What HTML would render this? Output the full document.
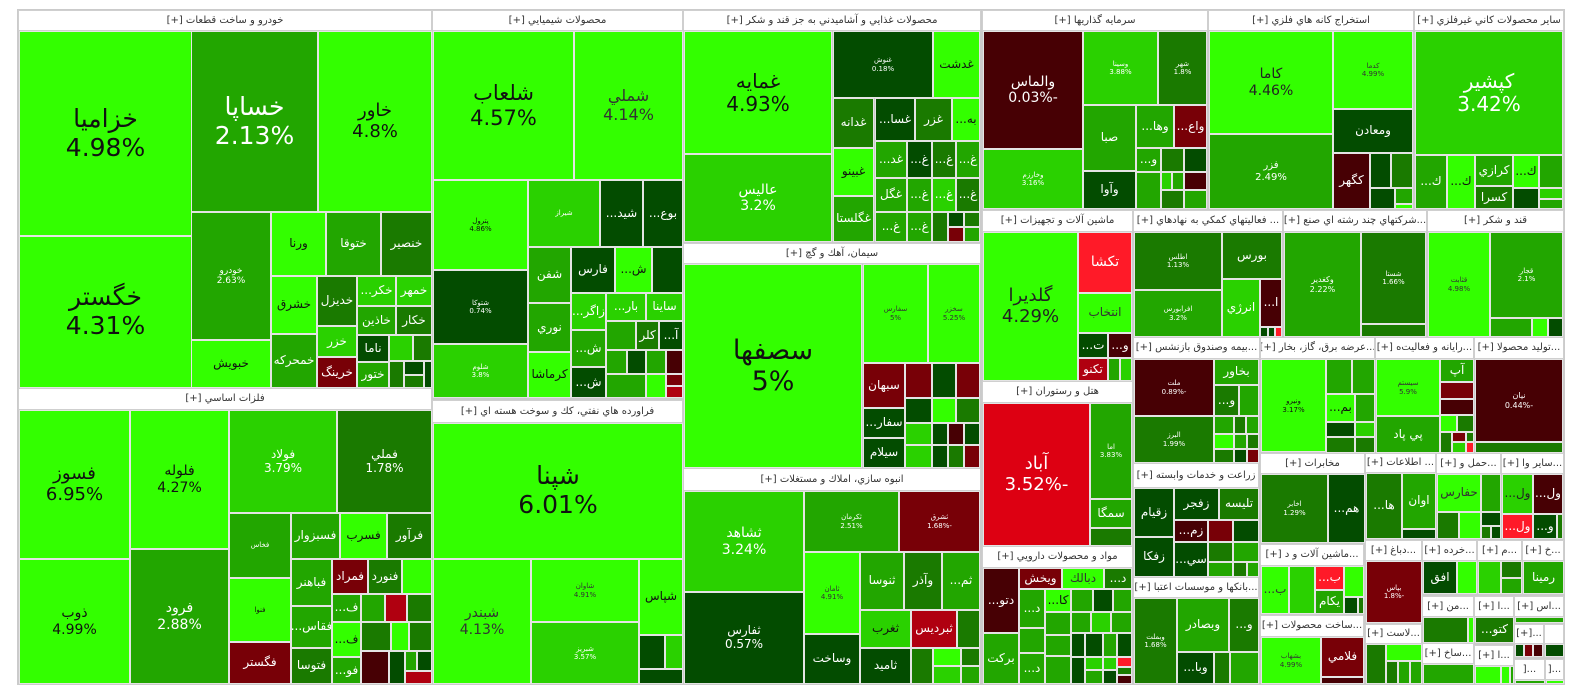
<!DOCTYPE html>
<html><head><meta charset="utf-8">
<style>
body{margin:0;width:1584px;height:698px;background:#fff;position:relative;overflow:hidden;font-family:"DejaVu Sans","Liberation Sans",sans-serif;}
#m{position:absolute;left:17px;top:9px;width:1548px;height:676px;background:#cbcbcb}
.r,.h{position:absolute;box-sizing:border-box;display:flex;flex-direction:column;align-items:center;justify-content:center;overflow:hidden;text-align:center;line-height:1.15;white-space:nowrap;direction:rtl}
.r{border:1px solid #e4e4e4;color:#fff;font-size:12px}
.h{background:#fff;color:#333;font-size:10px;border:1px solid #cfcfcf}
.a{background:#33ff00;color:#111}.b{background:#2ad100}.c{background:#22a600}.d{background:#1a7a00}.e{background:#034c00}
.f{background:#470004}.g{background:#780007}.h2{background:#b00010}.i{background:#ff1a28}.j{background:#dd0012}
.B{font-size:25px}.M{font-size:18px}.S{font-size:14px}.T{font-size:7px}
</style></head><body>
<div id="m"></div>
<!-- Car -->
<div class="h" style="left:18px;top:10px;width:414px;height:21px">خودرو و ساخت قطعات [+]</div>
<div class="r a B" style="left:19px;top:31px;width:173px;height:205px">خزاميا<br>4.98%</div>
<div class="r a B" style="left:19px;top:236px;width:173px;height:152px">خگستر<br>4.31%</div>
<div class="r c B" style="left:191px;top:31px;width:127px;height:181px">خساپا<br>2.13%</div>
<div class="r a M" style="left:318px;top:31px;width:114px;height:181px">خاور<br>4.8%</div>
<div class="r c" style="left:191px;top:212px;width:80px;height:128px;font-size:9px">خودرو<br>2.63%</div>
<div class="r a" style="left:191px;top:340px;width:80px;height:48px">خبويش</div>
<div class="r a" style="left:271px;top:212px;width:55px;height:64px">ورنا</div>
<div class="r c" style="left:326px;top:212px;width:55px;height:64px">ختوقا</div>
<div class="r d" style="left:381px;top:212px;width:51px;height:64px">خنصير</div>
<div class="r a" style="left:271px;top:276px;width:46px;height:58px">خشرق</div>
<div class="r c" style="left:271px;top:334px;width:46px;height:54px">خمحركه</div>
<div class="r d" style="left:317px;top:276px;width:40px;height:50px">خديزل</div>
<div class="r b" style="left:317px;top:326px;width:40px;height:31px">خزر</div>
<div class="r g" style="left:317px;top:357px;width:40px;height:31px">خرينگ</div>
<div class="r b" style="left:357px;top:276px;width:39px;height:30px">خكر...</div>
<div class="r b" style="left:396px;top:276px;width:36px;height:30px">خمهر</div>
<div class="r c" style="left:357px;top:306px;width:39px;height:29px">خاذين</div>
<div class="r d" style="left:396px;top:306px;width:36px;height:29px">خكار</div>
<div class="r e" style="left:357px;top:335px;width:32px;height:27px">ناما</div>
<div class="r c" style="left:357px;top:362px;width:32px;height:26px">ختور</div>
<div class="r b" style="left:389px;top:335px;width:24px;height:26px"></div>
<div class="r d" style="left:413px;top:335px;width:19px;height:26px"></div>
<div class="r d" style="left:389px;top:361px;width:15px;height:27px"></div>
<div class="r e" style="left:404px;top:361px;width:20px;height:14px"></div>
<div class="r d" style="left:404px;top:375px;width:20px;height:13px"></div>
<div class="r e" style="left:424px;top:361px;width:8px;height:27px"></div>
<!-- Metals -->
<div class="h" style="left:18px;top:388px;width:414px;height:22px">فلزات اساسي [+]</div>
<div class="r a M" style="left:19px;top:410px;width:111px;height:149px">فسوز<br>6.95%</div>
<div class="r a S" style="left:19px;top:559px;width:111px;height:125px">ذوب<br>4.99%</div>
<div class="r a S" style="left:130px;top:410px;width:99px;height:139px">فلوله<br>4.27%</div>
<div class="r c S" style="left:130px;top:549px;width:99px;height:135px">فرود<br>2.88%</div>
<div class="r b" style="left:229px;top:410px;width:108px;height:103px">فولاد<br>3.79%</div>
<div class="r d" style="left:337px;top:410px;width:95px;height:103px">فملي<br>1.78%</div>
<div class="r c T" style="left:229px;top:513px;width:62px;height:65px">فخاس</div>
<div class="r a T" style="left:229px;top:578px;width:62px;height:64px">فنوا</div>
<div class="r g" style="left:229px;top:642px;width:62px;height:42px">فگستر</div>
<div class="r c" style="left:291px;top:513px;width:49px;height:46px">فسبزوار</div>
<div class="r a" style="left:340px;top:513px;width:47px;height:46px">فسرب</div>
<div class="r d" style="left:387px;top:513px;width:45px;height:46px">فرآور</div>
<div class="r c" style="left:291px;top:559px;width:41px;height:47px">فباهنر</div>
<div class="r c" style="left:291px;top:606px;width:41px;height:42px">فقاس...</div>
<div class="r d" style="left:291px;top:648px;width:41px;height:36px">فتوسا</div>
<div class="r g" style="left:332px;top:559px;width:36px;height:35px">فمراد</div>
<div class="r d" style="left:368px;top:559px;width:34px;height:35px">فنورد</div>
<div class="r a" style="left:402px;top:559px;width:30px;height:35px"></div>
<div class="r c" style="left:332px;top:594px;width:29px;height:28px">ف...</div>
<div class="r a" style="left:332px;top:622px;width:29px;height:35px">ف...</div>
<div class="r c" style="left:332px;top:657px;width:29px;height:27px">فو...</div>
<div class="r c" style="left:361px;top:594px;width:24px;height:28px"></div>
<div class="r h2" style="left:385px;top:594px;width:22px;height:28px"></div>
<div class="r d" style="left:407px;top:594px;width:25px;height:28px"></div>
<div class="r d" style="left:361px;top:622px;width:30px;height:29px"></div>
<div class="r a" style="left:391px;top:622px;width:18px;height:29px"></div>
<div class="r d" style="left:409px;top:622px;width:23px;height:29px"></div>
<div class="r f" style="left:361px;top:651px;width:28px;height:33px"></div>
<div class="r e" style="left:389px;top:651px;width:16px;height:33px"></div>
<div class="r c" style="left:405px;top:651px;width:12px;height:20px"></div>
<div class="r e" style="left:417px;top:651px;width:15px;height:20px"></div>
<div class="r h2" style="left:405px;top:671px;width:27px;height:13px"></div>
<!-- Chemical -->
<div class="h" style="left:432px;top:10px;width:251px;height:21px">محصولات شيميايي [+]</div>
<div class="r a" style="left:433px;top:31px;width:141px;height:149px;font-size:21px">شلعاب<br>4.57%</div>
<div class="r a" style="left:574px;top:31px;width:109px;height:149px;font-size:16px;color:#333">شملي<br>4.14%</div>
<div class="r a T" style="left:433px;top:180px;width:95px;height:90px">پترول<br>4.86%</div>
<div class="r e T" style="left:433px;top:270px;width:95px;height:74px">شتوكا<br>0.74%</div>
<div class="r b T" style="left:433px;top:344px;width:95px;height:54px">شلوم<br>3.8%</div>
<div class="r b T" style="left:528px;top:180px;width:72px;height:67px">شيراز</div>
<div class="r e" style="left:600px;top:180px;width:43px;height:67px">شيد...</div>
<div class="r e" style="left:643px;top:180px;width:40px;height:67px">بوع...</div>
<div class="r c" style="left:528px;top:247px;width:43px;height:56px">شفن</div>
<div class="r c" style="left:528px;top:303px;width:43px;height:49px">نوري</div>
<div class="r a" style="left:528px;top:352px;width:43px;height:46px">كرماشا</div>
<div class="r e" style="left:571px;top:247px;width:44px;height:46px">فارس</div>
<div class="r a" style="left:615px;top:247px;width:37px;height:46px">ش...</div>
<div class="r e" style="left:652px;top:247px;width:31px;height:46px"></div>
<div class="r b" style="left:571px;top:293px;width:35px;height:37px">زاگر...</div>
<div class="r b" style="left:606px;top:293px;width:40px;height:28px">بار...</div>
<div class="r b" style="left:646px;top:293px;width:37px;height:28px">ساينا</div>
<div class="r c" style="left:571px;top:330px;width:35px;height:37px">ش...</div>
<div class="r e" style="left:571px;top:367px;width:35px;height:31px">ش...</div>
<div class="r c" style="left:606px;top:321px;width:30px;height:29px"></div>
<div class="r d" style="left:636px;top:321px;width:23px;height:29px">كلر</div>
<div class="r e" style="left:659px;top:321px;width:24px;height:29px">آ...</div>
<div class="r c" style="left:606px;top:350px;width:21px;height:24px"></div>
<div class="r e" style="left:627px;top:350px;width:19px;height:24px"></div>
<div class="r c" style="left:646px;top:350px;width:20px;height:24px"></div>
<div class="r f" style="left:666px;top:350px;width:17px;height:24px"></div>
<div class="r c" style="left:606px;top:374px;width:40px;height:24px"></div>
<div class="r a" style="left:646px;top:374px;width:20px;height:24px"></div>
<div class="r g" style="left:666px;top:374px;width:17px;height:12px"></div>
<div class="r h2" style="left:666px;top:386px;width:17px;height:12px"></div>
<!-- Oil -->
<div class="h" style="left:432px;top:400px;width:251px;height:23px">فراورده هاي نفتي، كك و سوخت هسته اي [+]</div>
<div class="r a B" style="left:433px;top:423px;width:250px;height:136px">شپنا<br>6.01%</div>
<div class="r a S" style="left:433px;top:559px;width:98px;height:125px;color:#333">شبندر<br>4.13%</div>
<div class="r a T" style="left:531px;top:559px;width:108px;height:63px;color:#333">شاوان<br>4.91%</div>
<div class="r b T" style="left:531px;top:622px;width:108px;height:62px">شبريز<br>3.57%</div>
<div class="r a" style="left:639px;top:559px;width:44px;height:76px">شپاس</div>
<div class="r e" style="left:639px;top:635px;width:26px;height:34px"></div>
<div class="r b" style="left:665px;top:635px;width:18px;height:34px"></div>
<div class="r e" style="left:639px;top:669px;width:44px;height:15px"></div>
<!-- Food -->
<div class="h" style="left:683px;top:10px;width:298px;height:21px">محصولات غذايي و آشاميدني به جز قند و شكر [+]</div>
<div class="r a" style="left:684px;top:31px;width:148px;height:123px;font-size:20px">غمايه<br>4.93%</div>
<div class="r b S" style="left:684px;top:154px;width:148px;height:88px">عاليس<br>3.2%</div>
<div class="r e T" style="left:833px;top:31px;width:100px;height:67px">غنوش<br>0.18%</div>
<div class="r a" style="left:933px;top:31px;width:47px;height:67px">غدشت</div>
<div class="r d" style="left:833px;top:98px;width:41px;height:50px">غدانه</div>
<div class="r a" style="left:833px;top:148px;width:41px;height:48px">غبينو</div>
<div class="r c" style="left:833px;top:196px;width:41px;height:46px">غگلستا</div>
<div class="r e" style="left:875px;top:98px;width:40px;height:43px">غسا...</div>
<div class="r d" style="left:915px;top:98px;width:37px;height:43px">غزر</div>
<div class="r a" style="left:952px;top:98px;width:28px;height:43px">به...</div>
<div class="r c" style="left:875px;top:141px;width:32px;height:37px">غد...</div>
<div class="r e" style="left:907px;top:141px;width:25px;height:37px">غ...</div>
<div class="r d" style="left:932px;top:141px;width:24px;height:37px">غ...</div>
<div class="r c" style="left:956px;top:141px;width:24px;height:37px">غ...</div>
<div class="r c" style="left:875px;top:178px;width:32px;height:34px">غگل</div>
<div class="r c" style="left:907px;top:178px;width:25px;height:34px">غ...</div>
<div class="r b" style="left:932px;top:178px;width:24px;height:34px">غ...</div>
<div class="r d" style="left:956px;top:178px;width:24px;height:34px">غ...</div>
<div class="r c" style="left:875px;top:212px;width:32px;height:30px">غ...</div>
<div class="r c" style="left:907px;top:212px;width:25px;height:30px">غ...</div>
<div class="r d" style="left:932px;top:212px;width:16px;height:30px"></div>
<div class="r e" style="left:948px;top:212px;width:16px;height:15px"></div>
<div class="r d" style="left:964px;top:212px;width:16px;height:15px"></div>
<div class="r g" style="left:948px;top:227px;width:16px;height:15px"></div>
<div class="r c" style="left:964px;top:227px;width:16px;height:15px"></div>
<!-- Cement -->
<div class="h" style="left:683px;top:243px;width:298px;height:21px">سيمان، آهك و گچ [+]</div>
<div class="r a" style="left:684px;top:264px;width:178px;height:204px;font-size:27px">سصفها<br>5%</div>
<div class="r a T" style="left:863px;top:264px;width:65px;height:99px;color:#333">سفارس<br>5%</div>
<div class="r a T" style="left:928px;top:264px;width:52px;height:99px;color:#333">سخزر<br>5.25%</div>
<div class="r g" style="left:863px;top:363px;width:42px;height:45px">سبهان</div>
<div class="r e" style="left:863px;top:408px;width:42px;height:30px">سفار...</div>
<div class="r e" style="left:863px;top:438px;width:42px;height:30px">سيلام</div>
<div class="r g" style="left:905px;top:363px;width:27px;height:35px"></div>
<div class="r e" style="left:932px;top:363px;width:24px;height:35px"></div>
<div class="r g" style="left:956px;top:363px;width:24px;height:35px"></div>
<div class="r e" style="left:905px;top:398px;width:27px;height:25px"></div>
<div class="r a" style="left:932px;top:398px;width:24px;height:25px"></div>
<div class="r d" style="left:956px;top:398px;width:24px;height:25px"></div>
<div class="r b" style="left:905px;top:423px;width:27px;height:22px"></div>
<div class="r b" style="left:905px;top:445px;width:27px;height:23px"></div>
<div class="r e" style="left:932px;top:423px;width:16px;height:22px"></div>
<div class="r f" style="left:948px;top:423px;width:16px;height:22px"></div>
<div class="r e" style="left:964px;top:423px;width:16px;height:22px"></div>
<div class="r e" style="left:932px;top:445px;width:16px;height:23px"></div>
<div class="r d" style="left:948px;top:445px;width:16px;height:23px"></div>
<div class="r g" style="left:964px;top:445px;width:16px;height:23px"></div>
<!-- Anbooh -->
<div class="h" style="left:683px;top:468px;width:298px;height:23px">انبوه سازي، املاك و مستغلات [+]</div>
<div class="r b S" style="left:684px;top:491px;width:120px;height:101px">ثشاهد<br>3.24%</div>
<div class="r e" style="left:684px;top:592px;width:120px;height:92px">ثفارس<br>0.57%</div>
<div class="r c T" style="left:804px;top:491px;width:95px;height:61px">ثكرمان<br>2.51%</div>
<div class="r g T" style="left:899px;top:491px;width:81px;height:61px">ثشرق<br>-1.68%</div>
<div class="r a T" style="left:804px;top:552px;width:56px;height:82px;color:#333">ثامان<br>4.91%</div>
<div class="r e" style="left:804px;top:634px;width:56px;height:50px">وساخت</div>
<div class="r c" style="left:860px;top:552px;width:44px;height:58px">ثنوسا</div>
<div class="r d" style="left:904px;top:552px;width:38px;height:58px">وآذر</div>
<div class="r c" style="left:942px;top:552px;width:38px;height:58px">ثم...</div>
<div class="r b" style="left:860px;top:610px;width:51px;height:38px;color:#111">ثغرب</div>
<div class="r h2" style="left:911px;top:610px;width:46px;height:38px">ثبرديس</div>
<div class="r d" style="left:957px;top:610px;width:23px;height:38px"></div>
<div class="r e" style="left:860px;top:648px;width:51px;height:36px">ثاميد</div>
<div class="r d" style="left:911px;top:648px;width:22px;height:36px"></div>
<div class="r a" style="left:933px;top:648px;width:28px;height:18px"></div>
<div class="r b" style="left:933px;top:666px;width:28px;height:18px"></div>
<div class="r d" style="left:961px;top:648px;width:19px;height:18px"></div>
<div class="r c" style="left:961px;top:666px;width:19px;height:18px"></div>
<!-- Sarmaye -->
<div class="h" style="left:982px;top:10px;width:226px;height:21px">سرمايه گذاريها [+]</div>
<div class="r f S" style="left:983px;top:31px;width:100px;height:118px">والماس<br>-0.03%</div>
<div class="r b T" style="left:983px;top:149px;width:100px;height:60px">وخارزم<br>3.16%</div>
<div class="r b T" style="left:1083px;top:31px;width:75px;height:74px">وسينا<br>3.88%</div>
<div class="r d T" style="left:1158px;top:31px;width:49px;height:74px">شهر<br>1.8%</div>
<div class="r c" style="left:1083px;top:105px;width:53px;height:66px">صبا</div>
<div class="r e" style="left:1083px;top:171px;width:53px;height:38px">وآوا</div>
<div class="r c" style="left:1136px;top:105px;width:38px;height:43px">وها...</div>
<div class="r g" style="left:1174px;top:105px;width:33px;height:43px">واع...</div>
<div class="r c" style="left:1136px;top:148px;width:25px;height:24px">و...</div>
<div class="r d" style="left:1161px;top:148px;width:23px;height:24px"></div>
<div class="r e" style="left:1184px;top:148px;width:23px;height:24px"></div>
<div class="r c" style="left:1136px;top:172px;width:25px;height:37px"></div>
<div class="r b" style="left:1161px;top:172px;width:11px;height:18px"></div>
<div class="r c" style="left:1172px;top:172px;width:12px;height:18px"></div>
<div class="r f" style="left:1184px;top:172px;width:23px;height:18px"></div>
<div class="r d" style="left:1161px;top:190px;width:23px;height:19px"></div>
<div class="r c" style="left:1184px;top:190px;width:23px;height:19px"></div>
<!-- Mashin -->
<div class="h" style="left:982px;top:210px;width:151px;height:22px">ماشين آلات و تجهيزات [+]</div>
<div class="r a M" style="left:983px;top:232px;width:95px;height:149px;color:#222">گلديرا<br>4.29%</div>
<div class="r i S" style="left:1078px;top:232px;width:54px;height:61px">تكشا</div>
<div class="r a" style="left:1078px;top:293px;width:54px;height:40px;color:#333">انتخاب</div>
<div class="r e" style="left:1078px;top:333px;width:30px;height:25px">ت...</div>
<div class="r f" style="left:1108px;top:333px;width:24px;height:25px">و...</div>
<div class="r h2" style="left:1078px;top:358px;width:30px;height:23px">تكنو</div>
<div class="r c" style="left:1108px;top:358px;width:12px;height:23px"></div>
<div class="r b" style="left:1120px;top:358px;width:12px;height:23px"></div>
<!-- Hotel -->
<div class="h" style="left:982px;top:381px;width:151px;height:22px">هتل و رستوران [+]</div>
<div class="r j M" style="left:983px;top:403px;width:107px;height:143px">آباد<br>-3.52%</div>
<div class="r c T" style="left:1090px;top:403px;width:42px;height:96px">اما<br>3.83%</div>
<div class="r c" style="left:1090px;top:499px;width:42px;height:29px">سمگا</div>
<div class="r d" style="left:1090px;top:528px;width:42px;height:18px"></div>
<!-- Mavad -->
<div class="h" style="left:982px;top:546px;width:151px;height:22px">مواد و محصولات دارويي [+]</div>
<div class="r f" style="left:983px;top:568px;width:36px;height:65px">دتو...</div>
<div class="r c" style="left:983px;top:633px;width:36px;height:51px">بركت</div>
<div class="r g" style="left:1019px;top:568px;width:43px;height:21px">ويخش</div>
<div class="r a" style="left:1062px;top:568px;width:42px;height:21px;color:#333">دبالك</div>
<div class="r d" style="left:1104px;top:568px;width:28px;height:21px">د...</div>
<div class="r c" style="left:1019px;top:589px;width:26px;height:39px">د...</div>
<div class="r c" style="left:1019px;top:628px;width:26px;height:25px"></div>
<div class="r c" style="left:1019px;top:653px;width:26px;height:31px">د...</div>
<div class="r a" style="left:1045px;top:589px;width:26px;height:23px">كا...</div>
<div class="r c" style="left:1045px;top:612px;width:26px;height:23px"></div>
<div class="r c" style="left:1045px;top:635px;width:26px;height:21px"></div>
<div class="r c" style="left:1045px;top:656px;width:26px;height:28px"></div>
<div class="r c" style="left:1071px;top:589px;width:22px;height:23px"></div>
<div class="r e" style="left:1093px;top:589px;width:20px;height:23px"></div>
<div class="r c" style="left:1113px;top:589px;width:19px;height:23px"></div>
<div class="r c" style="left:1071px;top:612px;width:20px;height:21px"></div>
<div class="r b" style="left:1091px;top:612px;width:20px;height:21px"></div>
<div class="r c" style="left:1111px;top:612px;width:21px;height:21px"></div>
<div class="r e" style="left:1071px;top:633px;width:14px;height:24px"></div>
<div class="r e" style="left:1085px;top:633px;width:18px;height:24px"></div>
<div class="r c" style="left:1103px;top:633px;width:14px;height:24px"></div>
<div class="r e" style="left:1117px;top:633px;width:15px;height:24px"></div>
<div class="r e" style="left:1071px;top:657px;width:14px;height:27px"></div>
<div class="r b" style="left:1085px;top:657px;width:18px;height:13px"></div>
<div class="r b" style="left:1103px;top:657px;width:14px;height:13px"></div>
<div class="r i" style="left:1117px;top:657px;width:15px;height:10px"></div>
<div class="r c" style="left:1085px;top:670px;width:18px;height:14px"></div>
<div class="r e" style="left:1103px;top:670px;width:14px;height:14px"></div>
<div class="r d" style="left:1117px;top:667px;width:15px;height:8px"></div>
<div class="r f" style="left:1117px;top:675px;width:15px;height:9px"></div>
<!-- Estekhraj -->
<div class="h" style="left:1208px;top:10px;width:206px;height:21px">استخراج كانه هاي فلزي [+]</div>
<div class="r a S" style="left:1209px;top:31px;width:124px;height:103px;color:#222">كاما<br>4.46%</div>
<div class="r c" style="left:1209px;top:134px;width:124px;height:75px;font-size:10px">فزر<br>2.49%</div>
<div class="r a T" style="left:1333px;top:31px;width:80px;height:78px;color:#333">كدما<br>4.99%</div>
<div class="r e" style="left:1333px;top:109px;width:80px;height:44px">ومعادن</div>
<div class="r f" style="left:1333px;top:153px;width:37px;height:56px">كگهر</div>
<div class="r e" style="left:1370px;top:153px;width:21px;height:35px"></div>
<div class="r d" style="left:1391px;top:153px;width:22px;height:35px"></div>
<div class="r e" style="left:1370px;top:188px;width:25px;height:21px"></div>
<div class="r c" style="left:1395px;top:188px;width:18px;height:16px"></div>
<div class="r a" style="left:1395px;top:204px;width:18px;height:5px"></div>
<!-- Sayer -->
<div class="h" style="left:1414px;top:10px;width:150px;height:21px">ساير محصولات كاني غيرفلزي [+]</div>
<div class="r b" style="left:1415px;top:31px;width:148px;height:124px;font-size:20px">كپشير<br>3.42%</div>
<div class="r c" style="left:1415px;top:155px;width:32px;height:54px">ك...</div>
<div class="r a" style="left:1447px;top:155px;width:28px;height:54px">ك...</div>
<div class="r c" style="left:1475px;top:155px;width:38px;height:31px">كرازي</div>
<div class="r d" style="left:1475px;top:186px;width:38px;height:23px">كسرا</div>
<div class="r a" style="left:1513px;top:155px;width:26px;height:33px">ك...</div>
<div class="r c" style="left:1539px;top:155px;width:24px;height:33px"></div>
<div class="r e" style="left:1513px;top:188px;width:26px;height:21px"></div>
<div class="r b" style="left:1539px;top:188px;width:24px;height:11px"></div>
<div class="r c" style="left:1539px;top:199px;width:24px;height:10px"></div>
<!-- Faaliat -->
<div class="h" style="left:1133px;top:210px;width:150px;height:22px">... فعاليتهاي كمكي به نهادهاي [+]</div>
<div class="r d T" style="left:1134px;top:232px;width:88px;height:58px">اطلس<br>1.13%</div>
<div class="r c T" style="left:1134px;top:290px;width:88px;height:47px">افرابورس<br>3.2%</div>
<div class="r d" style="left:1222px;top:232px;width:60px;height:47px">بورس</div>
<div class="r b" style="left:1222px;top:279px;width:38px;height:58px">انرژي</div>
<div class="r f" style="left:1260px;top:279px;width:22px;height:48px">ا...</div>
<div class="r e" style="left:1260px;top:327px;width:8px;height:10px"></div>
<div class="r e" style="left:1268px;top:327px;width:7px;height:10px"></div>
<div class="r i" style="left:1275px;top:327px;width:7px;height:10px"></div>
<!-- Chand -->
<div class="h" style="left:1283px;top:210px;width:144px;height:22px">...شركتهاي چند رشته اي صنع [+]</div>
<div class="r c" style="left:1284px;top:232px;width:77px;height:105px;font-size:8px">وكغدير<br>2.22%</div>
<div class="r d" style="left:1361px;top:232px;width:65px;height:92px;font-size:7px">شستا<br>1.66%</div>
<div class="r d" style="left:1361px;top:324px;width:65px;height:13px"></div>
<!-- Ghand -->
<div class="h" style="left:1427px;top:210px;width:137px;height:22px">قند و شكر [+]</div>
<div class="r a T" style="left:1428px;top:232px;width:62px;height:105px;color:#333">قثابت<br>4.98%</div>
<div class="r c T" style="left:1490px;top:232px;width:73px;height:86px">قجار<br>2.1%</div>
<div class="r c" style="left:1490px;top:318px;width:42px;height:19px"></div>
<div class="r a" style="left:1532px;top:318px;width:16px;height:19px"></div>
<div class="r e" style="left:1548px;top:318px;width:15px;height:19px"></div>
<!-- Bime -->
<div class="h" style="left:1133px;top:337px;width:127px;height:22px">...بيمه وصندوق بازنشس [+]</div>
<div class="r f T" style="left:1134px;top:359px;width:80px;height:57px">ملت<br>-0.89%</div>
<div class="r d T" style="left:1134px;top:416px;width:80px;height:47px">البرز<br>1.99%</div>
<div class="r c" style="left:1214px;top:359px;width:45px;height:26px">بخاور</div>
<div class="r d" style="left:1214px;top:385px;width:25px;height:31px">و...</div>
<div class="r c" style="left:1239px;top:385px;width:20px;height:31px"></div>
<div class="r c" style="left:1214px;top:416px;width:20px;height:18px"></div>
<div class="r d" style="left:1234px;top:416px;width:12px;height:18px"></div>
<div class="r c" style="left:1246px;top:416px;width:13px;height:18px"></div>
<div class="r a" style="left:1214px;top:434px;width:20px;height:15px"></div>
<div class="r c" style="left:1234px;top:434px;width:13px;height:15px"></div>
<div class="r d" style="left:1247px;top:434px;width:12px;height:15px"></div>
<div class="r d" style="left:1214px;top:449px;width:20px;height:14px"></div>
<div class="r e" style="left:1234px;top:449px;width:13px;height:14px"></div>
<div class="r g" style="left:1247px;top:449px;width:12px;height:14px"></div>
<!-- Barq -->
<div class="h" style="left:1260px;top:337px;width:115px;height:22px">...عرضه برق، گاز، بخار [+]</div>
<div class="r a T" style="left:1261px;top:359px;width:65px;height:93px">ونيرو<br>3.17%</div>
<div class="r c" style="left:1326px;top:359px;width:26px;height:35px"></div>
<div class="r c" style="left:1352px;top:359px;width:23px;height:35px"></div>
<div class="r a" style="left:1326px;top:394px;width:29px;height:28px">بم...</div>
<div class="r c" style="left:1355px;top:394px;width:20px;height:28px"></div>
<div class="r e" style="left:1326px;top:422px;width:29px;height:15px"></div>
<div class="r b" style="left:1355px;top:422px;width:20px;height:15px"></div>
<div class="r d" style="left:1326px;top:437px;width:29px;height:16px"></div>
<div class="r d" style="left:1355px;top:437px;width:20px;height:16px"></div>
<!-- Rayane -->
<div class="h" style="left:1375px;top:337px;width:99px;height:22px">...رايانه و فعاليت‌ه [+]</div>
<div class="r a T" style="left:1376px;top:359px;width:64px;height:57px;color:#333">سيستم<br>5.9%</div>
<div class="r c" style="left:1376px;top:416px;width:64px;height:37px">پي پاد</div>
<div class="r c" style="left:1440px;top:359px;width:34px;height:23px">آپ</div>
<div class="r g" style="left:1440px;top:382px;width:34px;height:17px"></div>
<div class="r f" style="left:1440px;top:399px;width:34px;height:16px"></div>
<div class="r a" style="left:1440px;top:415px;width:17px;height:17px"></div>
<div class="r d" style="left:1457px;top:415px;width:17px;height:17px"></div>
<div class="r d" style="left:1440px;top:432px;width:12px;height:21px"></div>
<div class="r g" style="left:1452px;top:432px;width:14px;height:10px"></div>
<div class="r d" style="left:1466px;top:432px;width:8px;height:10px"></div>
<div class="r b" style="left:1452px;top:442px;width:14px;height:11px"></div>
<div class="r i" style="left:1466px;top:442px;width:8px;height:11px"></div>
<!-- Tolid -->
<div class="h" style="left:1474px;top:337px;width:90px;height:22px">...توليد محصولا [+]</div>
<div class="r f" style="left:1475px;top:359px;width:88px;height:83px;font-size:8px">نيان<br>-0.44%</div>
<div class="r d" style="left:1475px;top:442px;width:88px;height:11px"></div>
<!-- Zeraat -->
<div class="h" style="left:1133px;top:463px;width:126px;height:25px">زراعت و خدمات وابسته [+]</div>
<div class="r e" style="left:1134px;top:488px;width:40px;height:49px">زقيام</div>
<div class="r e" style="left:1134px;top:537px;width:40px;height:40px">زفكا</div>
<div class="r e" style="left:1174px;top:488px;width:45px;height:32px">زفجر</div>
<div class="r d" style="left:1219px;top:488px;width:40px;height:32px">تليسه</div>
<div class="r f" style="left:1174px;top:520px;width:34px;height:22px">زم...</div>
<div class="r g" style="left:1208px;top:520px;width:25px;height:22px"></div>
<div class="r e" style="left:1233px;top:520px;width:26px;height:22px"></div>
<div class="r e" style="left:1174px;top:542px;width:34px;height:35px">سي...</div>
<div class="r d" style="left:1208px;top:542px;width:25px;height:20px"></div>
<div class="r c" style="left:1233px;top:542px;width:26px;height:20px"></div>
<div class="r c" style="left:1208px;top:562px;width:25px;height:15px"></div>
<div class="r d" style="left:1233px;top:562px;width:14px;height:15px"></div>
<div class="r c" style="left:1247px;top:562px;width:12px;height:15px"></div>
<!-- Bankha -->
<div class="h" style="left:1133px;top:577px;width:126px;height:21px">...بانكها و موسسات اعتبا [+]</div>
<div class="r d T" style="left:1134px;top:598px;width:43px;height:86px">وبملت<br>1.68%</div>
<div class="r c" style="left:1177px;top:598px;width:52px;height:54px">وبصادر</div>
<div class="r d" style="left:1229px;top:598px;width:30px;height:54px">و...</div>
<div class="r e" style="left:1177px;top:652px;width:37px;height:32px">وبا...</div>
<div class="r d" style="left:1214px;top:652px;width:16px;height:32px"></div>
<div class="r c" style="left:1230px;top:652px;width:29px;height:32px"></div>
<!-- Mokhaberat -->
<div class="h" style="left:1260px;top:453px;width:105px;height:21px">مخابرات [+]</div>
<div class="r d T" style="left:1261px;top:474px;width:67px;height:69px">اخابر<br>1.29%</div>
<div class="r e" style="left:1328px;top:474px;width:37px;height:69px">هم...</div>
<!-- Mashin2 -->
<div class="h" style="left:1260px;top:544px;width:104px;height:22px">...ماشين آلات و د [+]</div>
<div class="r a" style="left:1261px;top:566px;width:28px;height:48px;color:#333">ب...</div>
<div class="r b" style="left:1289px;top:566px;width:26px;height:48px"></div>
<div class="r i" style="left:1315px;top:566px;width:29px;height:24px">ب...</div>
<div class="r c" style="left:1315px;top:590px;width:29px;height:24px">يكام</div>
<div class="r a" style="left:1344px;top:566px;width:20px;height:31px"></div>
<div class="r e" style="left:1344px;top:597px;width:14px;height:17px"></div>
<div class="r d" style="left:1358px;top:597px;width:6px;height:17px"></div>
<!-- Sakht -->
<div class="h" style="left:1260px;top:615px;width:104px;height:22px">...ساخت محصولات [+]</div>
<div class="r a T" style="left:1261px;top:637px;width:60px;height:47px;color:#333">بشهاب<br>4.99%</div>
<div class="r g" style="left:1321px;top:637px;width:43px;height:40px">فلامي</div>
<div class="r f" style="left:1321px;top:677px;width:43px;height:7px"></div>
<!-- Ettelaat -->
<div class="h" style="left:1365px;top:453px;width:71px;height:20px">... اطلاعات [+]</div>
<div class="r d" style="left:1366px;top:473px;width:36px;height:66px">ها...</div>
<div class="r c" style="left:1402px;top:473px;width:34px;height:56px">اوان</div>
<div class="r e" style="left:1402px;top:529px;width:34px;height:10px"></div>
<!-- Dabagh / Lastik -->
<div class="h" style="left:1365px;top:540px;width:57px;height:21px">...دباغ [+]</div>
<div class="r g T" style="left:1366px;top:561px;width:56px;height:62px">بپاس<br>-1.8%</div>
<div class="h" style="left:1365px;top:624px;width:57px;height:20px">...لاست [+]</div>
<div class="r d" style="left:1366px;top:644px;width:20px;height:40px"></div>
<div class="r a" style="left:1386px;top:644px;width:36px;height:17px"></div>
<div class="r d" style="left:1386px;top:661px;width:12px;height:23px"></div>
<div class="r c" style="left:1398px;top:661px;width:12px;height:23px"></div>
<div class="r c" style="left:1410px;top:661px;width:12px;height:23px"></div>
<!-- Haml -->
<div class="h" style="left:1436px;top:453px;width:65px;height:21px">...حمل و [+]</div>
<div class="r a" style="left:1437px;top:474px;width:44px;height:38px;color:#333">حفارس</div>
<div class="r c" style="left:1481px;top:474px;width:20px;height:38px"></div>
<div class="r d" style="left:1437px;top:512px;width:22px;height:27px"></div>
<div class="r a" style="left:1459px;top:512px;width:22px;height:27px"></div>
<div class="r e" style="left:1481px;top:512px;width:20px;height:14px"></div>
<div class="r d" style="left:1481px;top:526px;width:10px;height:13px"></div>
<div class="r e" style="left:1491px;top:526px;width:10px;height:13px"></div>
<!-- Sayer va -->
<div class="h" style="left:1501px;top:453px;width:63px;height:21px">...ساير وا [+]</div>
<div class="r b" style="left:1502px;top:474px;width:31px;height:40px;color:#222">ول...</div>
<div class="r f" style="left:1533px;top:474px;width:30px;height:40px">ول...</div>
<div class="r i" style="left:1502px;top:514px;width:31px;height:25px">ول...</div>
<div class="r e" style="left:1533px;top:514px;width:24px;height:25px">و...</div>
<div class="r d" style="left:1557px;top:514px;width:6px;height:25px"></div>
<!-- small sectors -->
<div class="h" style="left:1422px;top:540px;width:55px;height:21px">...خرده [+]</div>
<div class="r e" style="left:1423px;top:561px;width:34px;height:33px">افق</div>
<div class="r a" style="left:1457px;top:561px;width:20px;height:33px"></div>
<div class="h" style="left:1477px;top:540px;width:45px;height:21px">...م [+]</div>
<div class="r b" style="left:1478px;top:561px;width:23px;height:33px"></div>
<div class="r d" style="left:1501px;top:561px;width:21px;height:17px"></div>
<div class="r c" style="left:1501px;top:578px;width:21px;height:16px"></div>
<div class="h" style="left:1522px;top:540px;width:42px;height:21px">...خ [+]</div>
<div class="r c" style="left:1523px;top:561px;width:41px;height:33px">رمينا</div>
<div class="h" style="left:1422px;top:596px;width:52px;height:21px">...من [+]</div>
<div class="r d" style="left:1423px;top:617px;width:45px;height:26px"></div>
<div class="r a" style="left:1468px;top:617px;width:6px;height:26px"></div>
<div class="h" style="left:1422px;top:643px;width:52px;height:21px">...ساخ [+]</div>
<div class="r c" style="left:1423px;top:664px;width:51px;height:20px"></div>
<div class="h" style="left:1474px;top:596px;width:40px;height:21px">...ا [+]</div>
<div class="r d" style="left:1475px;top:617px;width:39px;height:26px">كتو...</div>
<div class="h" style="left:1474px;top:645px;width:40px;height:21px">...ا [+]</div>
<div class="r a" style="left:1475px;top:666px;width:26px;height:18px"></div>
<div class="r a" style="left:1501px;top:666px;width:9px;height:18px"></div>
<div class="r c" style="left:1510px;top:666px;width:4px;height:18px"></div>
<div class="h" style="left:1514px;top:596px;width:50px;height:21px">...اس [+]</div>
<div class="r c" style="left:1515px;top:617px;width:49px;height:6px"></div>
<div class="h" style="left:1514px;top:624px;width:30px;height:20px">...[+]</div>
<div class="r e" style="left:1515px;top:644px;width:9px;height:13px"></div>
<div class="r g" style="left:1524px;top:644px;width:9px;height:13px"></div>
<div class="r f" style="left:1533px;top:644px;width:10px;height:13px"></div>
<div class="h" style="left:1544px;top:624px;width:20px;height:20px"></div>
<div class="r e" style="left:1545px;top:644px;width:19px;height:13px"></div>
<div class="h" style="left:1514px;top:659px;width:31px;height:21px">...[</div>
<div class="r c" style="left:1515px;top:680px;width:30px;height:4px"></div>
<div class="h" style="left:1545px;top:659px;width:19px;height:21px">...[</div>
<div class="r a" style="left:1546px;top:680px;width:18px;height:4px"></div>
</body></html>
